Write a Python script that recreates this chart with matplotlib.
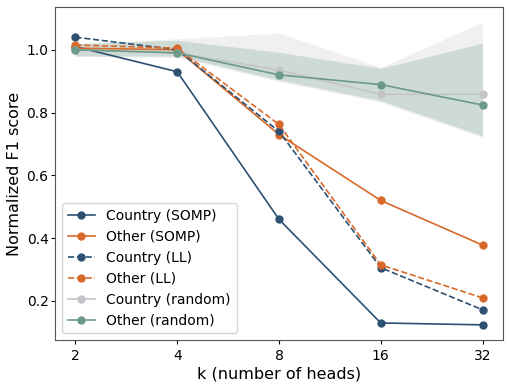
import numpy as np
import matplotlib
matplotlib.use("Agg")
import matplotlib.pyplot as plt
from matplotlib.ticker import ScalarFormatter, NullFormatter

# number of heads
k = [2, 4, 8, 16, 32]

country_somp = [1.01, 0.93, 0.46, 0.13, 0.124]
other_somp = [1.005, 1.0, 0.73, 0.52, 0.378]
country_ll = [1.04, 1.0, 0.74, 0.306, 0.172]
other_ll = [1.015, 1.005, 0.762, 0.315, 0.21]
country_rand = [1.0, 0.99, 0.935, 0.858, 0.858]
other_rand = [1.0, 0.99, 0.92, 0.889, 0.824]

# spread of the random baselines
country_rand_hi = [1.02, 1.035, 1.053, 0.944, 1.088]
country_rand_lo = [0.98, 0.975, 0.899, 0.833, 0.72]
other_rand_hi = [1.02, 1.03, 0.992, 0.941, 1.021]
other_rand_lo = [0.98, 0.98, 0.904, 0.838, 0.726]

c_country = '#2d5073'
c_other = '#d9692b'
c_crand = '#c4c4c8'
c_orand = '#6b9a88'

fig = plt.figure(figsize=(5.1, 3.87), dpi=100)
ax = fig.add_axes([0.108, 0.1215, 0.878, 0.8605])

ax.fill_between(k, country_rand_lo, country_rand_hi, color='#d0d0d0', alpha=0.3, lw=0)
ax.fill_between(k, other_rand_lo, other_rand_hi, color=c_orand, alpha=0.25, lw=0)

kw = dict(marker='o', markersize=5, linewidth=1.2)
ax.plot(k, country_somp, color=c_country, label='Country (SOMP)', **kw)
ax.plot(k, other_somp, color=c_other, label='Other (SOMP)', **kw)
ax.plot(k, country_ll, color=c_country, linestyle='--', label='Country (LL)', **kw)
ax.plot(k, other_ll, color=c_other, linestyle='--', label='Other (LL)', **kw)
ax.plot(k, country_rand, color=c_crand, label='Country (random)', **kw)
ax.plot(k, other_rand, color=c_orand, label='Other (random)', **kw)

ax.set_xscale('log', base=2)
ax.set_xticks(k)
ax.xaxis.set_major_formatter(ScalarFormatter())
ax.xaxis.set_minor_formatter(NullFormatter())
ax.set_yticks([0.2, 0.4, 0.6, 0.8, 1.0])
ax.tick_params(labelsize=10, length=3.2)
ax.tick_params(axis='y', pad=1.5)

ax.set_xlabel('k (number of heads)', fontsize=11.5, labelpad=2)
ax.set_ylabel('Normalized F1 score', fontsize=11.5, labelpad=3)
for s in ax.spines.values():
    s.set_color('#555555')

ax.legend(loc='lower left', fontsize=10, handlelength=2.0)

fig.savefig('out.png', dpi=100)
